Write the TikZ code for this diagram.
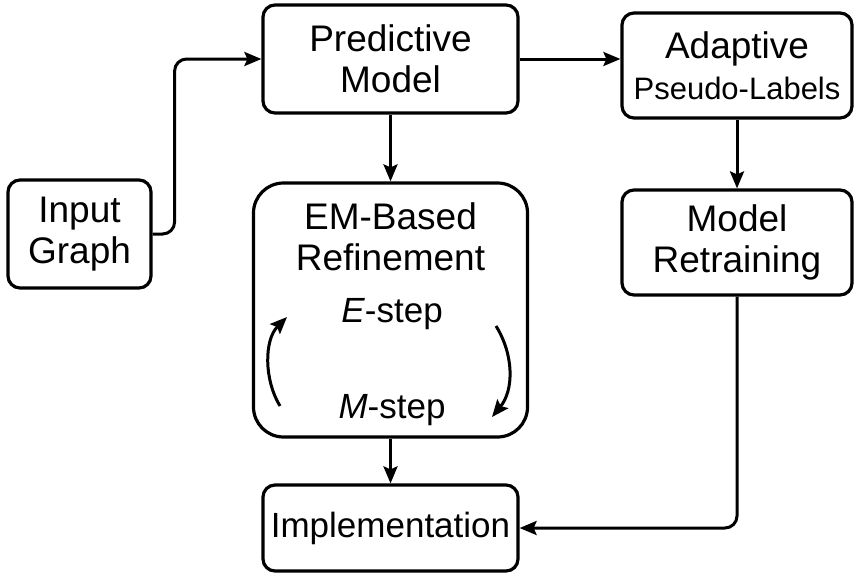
\documentclass[tikz,border=0pt]{standalone}
\usepackage{fontspec}
\setmainfont{Liberation Sans}
\usetikzlibrary{arrows.meta}

\begin{document}
\begin{tikzpicture}[x=0.5pt, y=-0.5pt,
		box/.style={draw, line width=1.6pt, rounded corners=6pt, align=center, inner sep=0pt},
		arr/.style={line width=1.5pt, -{Stealth[length=8.5pt, width=7pt, inset=1.5pt]}},
		big/.style={font=\fontsize{18.5}{20.5}\selectfont},
		steptext/.style={font=\fontsize{17.5}{20}\selectfont}]
	\useasboundingbox (0,0) rectangle (854,573);
	\node[box, big, minimum width=71.5pt, minimum height=54pt] (inp) at (79.5,234) {Input\\Graph};
	\node[box, big, minimum width=127.5pt, minimum height=54pt] (pred) at (390.5,59) {Predictive\\Model};
	\node[box, big, minimum width=115pt, minimum height=52.5pt] (adapt) at (737,65.5) {Adaptive\\{\fontsize{15.5}{20}\selectfont Pseudo-Labels}};
	\node[box, big, minimum width=115pt, minimum height=52.5pt] (retr) at (737,242.5) {Model\\Retraining};
	\node[box, rounded corners=15pt, minimum width=137pt, minimum height=127pt] (em) at (390.5,310) {};
	\node[big, align=center] (emtitle) at (390.5,237) {EM-Based\\Refinement};
	\node[steptext] (estep) at (392,314) {\textit{E}-step};
	\node[steptext] (mstep) at (392,410) {\textit{M}-step};
	\node[box, steptext, minimum width=127.5pt, minimum height=43pt] (impl) at (390.5,528) {Implementation};
	\coordinate (la) at (280,406);
	\coordinate (lb) at (287,317);
	\coordinate (ra) at (496,326);
	\coordinate (rb) at (492,417);
	\draw[arr, rounded corners=6pt] (inp.east) -- ++(22,0) |- (pred.west);
	\draw[arr] (pred.east) -- (adapt.west |- pred.east);
	\draw[arr] (pred.south) -- (em.north);
	\draw[arr] (adapt.south) -- (retr.north);
	\draw[arr] (em.south) -- (impl.north);
	\draw[arr, rounded corners=6pt] (retr.south) |- (impl.east);
	\draw[arr] (la) .. controls (264,380) and (264,340) .. (lb);
	\draw[arr] (ra) .. controls (514,355) and (514,390) .. (rb);
\end{tikzpicture}
\end{document}
